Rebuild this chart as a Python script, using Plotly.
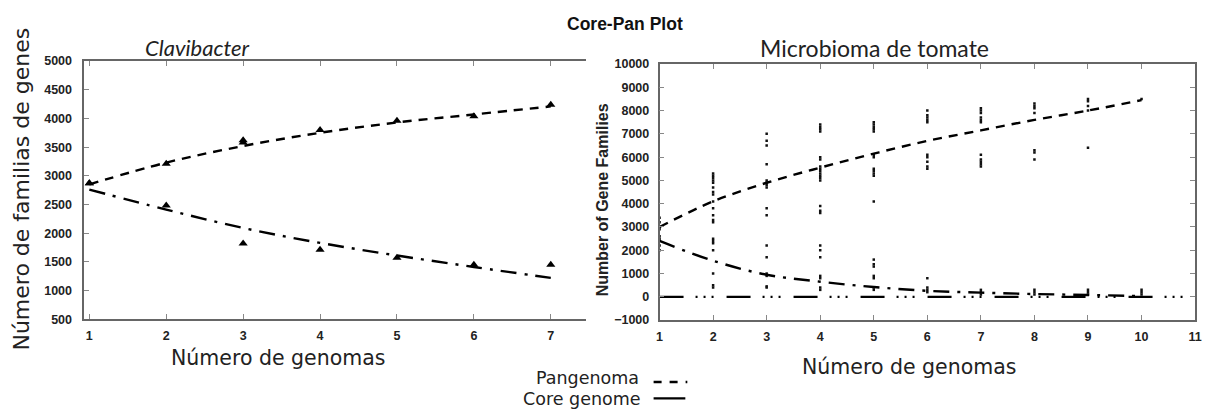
import plotly.graph_objects as go

W, H = 1215, 417

# ---- Clavibacter (left panel) ----
clav_genomes = [1, 2, 3, 3, 4, 5, 6, 7]
clav_pan_obs = [2870, 3210, 3620, 3580, 3800, 3960, 4040, 4240]
clav_core_genomes = [1, 2, 3, 4, 5, 6, 7]
clav_core_obs = [2870, 2480, 1820, 1710, 1570, 1450, 1450]
clav_fit_x = [1, 2, 3, 4, 5, 6, 7]
clav_pan_fit = [2850, 3230, 3520, 3750, 3930, 4070, 4210]
clav_core_fit = [2760, 2410, 2090, 1830, 1610, 1410, 1220]

# ---- Microbioma de tomate (right panel) ----
tom_fit_x = [1, 2, 3, 4, 5, 6, 7, 8, 9, 10]
tom_pan_fit = [3000, 4100, 4900, 5550, 6150, 6700, 7150, 7600, 8000, 8450]
tom_core_fit = [2400, 1550, 950, 650, 420, 260, 180, 120, 80, 30]
tom_new_x = [1, 11]
tom_new = [0, 0]
tom_samples = {
    1: [3400, 3200, 3000, 2900, 2600, 2500, 2200, 2000],
    2: [5300, 5200, 5100, 5000, 4900, 4700, 4500, 4400, 4100, 3800, 3500,
        3300, 3200, 2500, 2400, 2300, 2000, 1000, 500, 400],
    3: [7000, 6700, 6500, 5700, 5000, 4900, 4800, 4700, 3800, 3500, 2200,
        1700, 1000, 900, 450, 400],
    4: [7400, 7300, 7200, 7100, 6000, 5900, 5600, 5500, 5400, 5300, 5200,
        5100, 5000, 3900, 3700, 3600, 2200, 2000, 1700, 900, 800, 400, 300],
    5: [7500, 7400, 7300, 7200, 7100, 6100, 6000, 5500, 5400, 5300, 5200,
        4100, 1600, 1400, 1300, 900, 800, 400, 300],
    6: [8000, 7800, 7700, 7600, 7500, 6100, 6000, 5800, 5600, 5500, 800,
        400, 300, 200],
    7: [8100, 8000, 7900, 7700, 7600, 7500, 6100, 5900, 5800, 5700, 5600,
        300, 200, 100],
    8: [8300, 8200, 8100, 7900, 6300, 6200, 5900, 300, 200, 100],
    9: [8500, 8400, 8200, 8000, 6400, 300, 200, 100],
    10: [8500, 300, 200, 100],
}
tom_sx = [g for g, vals in tom_samples.items() for _ in vals]
tom_sy = [v for vals in tom_samples.values() for v in vals]

clav_xticks = [1, 2, 3, 4, 5, 6, 7]
clav_yticks = list(range(500, 5001, 500))
tom_xticks = list(range(1, 12))
tom_yticks = list(range(-1000, 10001, 1000))


def px(x):
    return x / W


def py(y):
    return 1 - y / H


DASH_PAN = "9px,7px"
DASH_CORE = "16px,8px,3px,8px"
DASH_NEW = "24px,12px,2px,6px,2px,6px,2px,13px"

fig = go.Figure()

# left panel
fig.add_trace(go.Scatter(x=clav_fit_x, y=clav_pan_fit, mode="lines", line_shape="spline",
                         line=dict(color="black", width=2.4, dash=DASH_PAN),
                         xaxis="x", yaxis="y"))
fig.add_trace(go.Scatter(x=clav_fit_x, y=clav_core_fit, mode="lines", line_shape="spline",
                         line=dict(color="black", width=2.4, dash=DASH_CORE),
                         xaxis="x", yaxis="y"))
fig.add_trace(go.Scatter(x=clav_genomes, y=clav_pan_obs, mode="markers",
                         marker=dict(symbol="triangle-up", size=8, color="black"),
                         xaxis="x", yaxis="y"))
fig.add_trace(go.Scatter(x=clav_core_genomes, y=clav_core_obs, mode="markers",
                         marker=dict(symbol="triangle-up", size=8, color="black"),
                         xaxis="x", yaxis="y"))

# right panel
fig.add_trace(go.Scatter(x=tom_sx, y=tom_sy, mode="markers",
                         marker=dict(symbol="square", size=2.5, color="#111"),
                         xaxis="x2", yaxis="y2"))
fig.add_trace(go.Scatter(x=tom_new_x, y=tom_new, mode="lines",
                         line=dict(color="black", width=2.2, dash=DASH_NEW),
                         xaxis="x2", yaxis="y2"))
fig.add_trace(go.Scatter(x=tom_fit_x, y=tom_pan_fit, mode="lines", line_shape="spline",
                         line=dict(color="black", width=2.4, dash=DASH_PAN),
                         xaxis="x2", yaxis="y2"))
fig.add_trace(go.Scatter(x=tom_fit_x, y=tom_core_fit, mode="lines", line_shape="spline",
                         line=dict(color="black", width=2.4, dash=DASH_CORE),
                         xaxis="x2", yaxis="y2"))

tickfont = dict(family="Liberation Sans", size=12.5, color="#222", weight="bold")
axcommon = dict(showgrid=False, zeroline=False, showline=True, linecolor="#666",
                linewidth=1.6, ticks="inside", ticklen=5, tickcolor="#888",
                tickwidth=1, tickfont=tickfont, tickformat="d")

fig.update_layout(
    width=W, height=H,
    margin=dict(l=0, r=0, t=0, b=0),
    paper_bgcolor="white", plot_bgcolor="white",
    showlegend=False,
    xaxis=dict(domain=[px(82), px(588)], range=[0.935, 7.46], anchor="y",
               tickvals=clav_xticks, mirror="ticks", ticklabelstandoff=4, **axcommon),
    yaxis=dict(domain=[py(323), py(56)], range=[500, 5000], anchor="x",
               tickvals=clav_yticks, ticklabelstandoff=8, **axcommon),
    xaxis2=dict(domain=[px(662), px(1202)], range=[1, 11], anchor="y2",
                tickvals=tom_xticks, mirror="allticks", ticklabelstandoff=4, **axcommon),
    yaxis2=dict(domain=[py(324), py(59)], range=[-1000, 10000], anchor="x2",
                tickvals=tom_yticks, mirror="allticks", ticklabelstandoff=6, **axcommon),
)

ann = [
    dict(text="<b>Core-Pan Plot</b>", x=px(627), y=py(18),
         font=dict(family="Liberation Sans", size=17.5, color="#111")),
    dict(text="<i>Clavibacter</i>", x=px(196), y=py(42),
         font=dict(family="Lato", size=22, color="#222")),
    dict(text="Microbioma de tomate", x=px(879), y=py(42),
         font=dict(family="Lato", size=23, color="#222")),
    dict(text="Número de familias de genes", x=px(19), y=py(188), textangle=-90,
         font=dict(family="DejaVu Sans", size=22, color="#222")),
    dict(text="Número de genomas", x=px(277), y=py(363),
         font=dict(family="DejaVu Sans", size=20.5, color="#222")),
    dict(text="Número de genomas", x=px(914), y=py(373),
         font=dict(family="DejaVu Sans", size=20.5, color="#222")),
    dict(text="<b>Number of Gene Families</b>", x=px(604), y=py(200), textangle=-90,
         font=dict(family="Liberation Sans", size=16, color="#222")),
    dict(text="Pangenoma", x=px(643), y=py(384), xanchor="right",
         font=dict(family="DejaVu Sans", size=17.5, color="#222")),
    dict(text="Core genome", x=px(645), y=py(406), xanchor="right",
         font=dict(family="DejaVu Sans", size=17.5, color="#222")),
]
for a in ann:
    a.setdefault("xanchor", "center")
    fig.add_annotation(xref="paper", yref="paper", yanchor="middle",
                       showarrow=False, **a)

# legend samples
fig.add_shape(type="line", xref="paper", yref="paper",
              x0=px(656), x1=px(690), y0=py(388), y1=py(388),
              line=dict(color="black", width=2.4, dash="8px,8px"))
fig.add_shape(type="line", xref="paper", yref="paper",
              x0=px(656), x1=px(688), y0=py(405), y1=py(405),
              line=dict(color="black", width=2.4))

fig.write_html("out.html")
